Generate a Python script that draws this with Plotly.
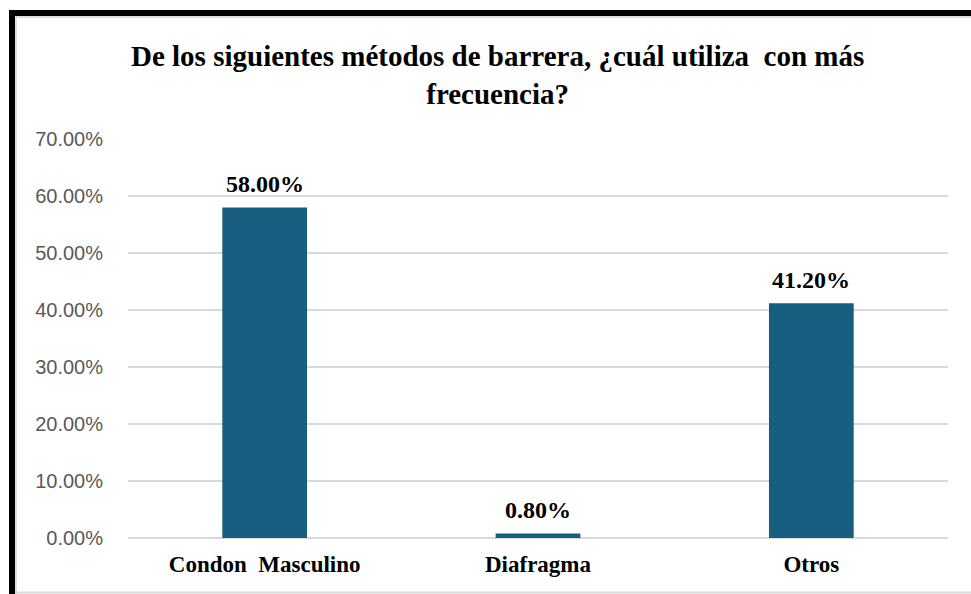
import plotly.graph_objects as go

categories = ["Condon  Masculino", "Diafragma", "Otros"]
values = [0.58, 0.008, 0.412]
tick_vals = [0, 0.1, 0.2, 0.3, 0.4, 0.5, 0.6, 0.7]
title_text = "De los siguientes métodos de barrera, ¿cuál utiliza  con más<br>frecuencia?"

W, H = 971, 594
L, R, T, B = 128, 23, 139, 56
pw, ph = W - L - R, H - T - B

def px(x):
    return (x - L) / pw

def py(y):
    return (H - B - y) / ph

serif = "Liberation Serif, Times New Roman, serif"
sans = "Liberation Sans, Arial, sans-serif"

fig = go.Figure()
fig.add_trace(go.Bar(
    x=categories, y=values,
    marker=dict(color="#175E80", line=dict(width=0)),
    width=0.31,
    hoverinfo="skip",
))

for c, v in zip(categories, values):
    fig.add_annotation(x=c, y=v, xref="x", yref="y", text=f"<b>{v:.2%}</b>",
                       showarrow=False, yanchor="bottom", yshift=8,
                       font=dict(family=serif, size=24, color="#000000"))

fig.add_annotation(x=px(497), y=py(74.5), xref="paper", yref="paper", text=f"<b>{title_text}</b>",
                   showarrow=False, xanchor="center", yanchor="middle",
                   font=dict(family=serif, size=29, color="#000000"))

shapes = [
    dict(type="line", xref="paper", yref="paper", x0=px(12), x1=px(12), y0=py(13), y1=py(600),
         line=dict(color="#000000", width=6)),
    dict(type="line", xref="paper", yref="paper", x0=px(9), x1=px(980), y0=py(13), y1=py(13),
         line=dict(color="#000000", width=6)),
    dict(type="line", xref="paper", yref="paper", x0=px(16), x1=px(980), y0=py(17), y1=py(17),
         line=dict(color="#bfbfbf", width=1)),
    dict(type="line", xref="paper", yref="paper", x0=px(16), x1=px(16), y0=py(17), y1=py(600),
         line=dict(color="#bfbfbf", width=1)),
    dict(type="line", xref="paper", yref="paper", x0=px(15), x1=px(980), y0=py(592.5), y1=py(592.5),
         line=dict(color="#d9d9d9", width=2)),
]

fig.update_layout(
    width=W, height=H,
    margin=dict(l=L, r=R, t=T, b=B, pad=0),
    paper_bgcolor="#ffffff", plot_bgcolor="#ffffff",
    showlegend=False,
    bargap=0.69,
    shapes=shapes,
    xaxis=dict(showgrid=False, showline=False, zeroline=False, ticks="",
               tickfont=dict(family=serif, size=23, color="#000000"),
               tickprefix="<b>", ticksuffix="</b>", ticklabelstandoff=10),
    yaxis=dict(range=[0, 0.7], tickvals=tick_vals, tickformat=".2%",
               showgrid=True, gridcolor="#d9d9d9", gridwidth=2,
               zeroline=True, zerolinecolor="#d9d9d9", zerolinewidth=2,
               showline=False, ticks="",
               tickfont=dict(family=sans, size=20, color="#595959"),
               ticklabelstandoff=24),
)

fig.write_html("out.html", config={"displayModeBar": False},
               post_script="document.body.style.margin='0';document.body.style.overflow='hidden';")
